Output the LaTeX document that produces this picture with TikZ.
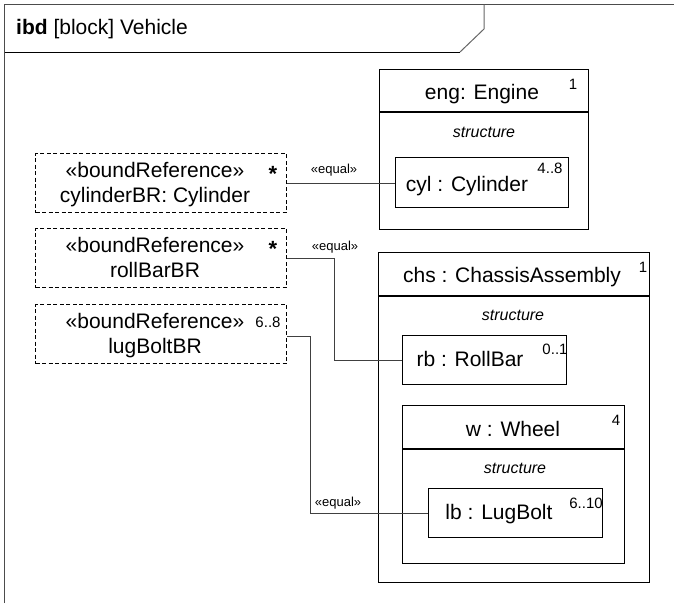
\documentclass[tikz,border=0pt]{standalone}
\usepackage{fontspec}
\setmainfont{Liberation Sans}
\usetikzlibrary{positioning}

\tikzset{
  part/.style={draw, line width=1.3pt, anchor=north west, inner sep=0pt},
  boundref/.style={draw, line width=1.2pt, dash pattern=on 4pt off 2.5pt, anchor=north west, inner sep=0pt},
  conn/.style={draw=black!75, line width=1pt},
  partname/.style={font=\fontsize{21}{25}\selectfont, text height=15, text depth=4.5, inner sep=0pt},
  comp/.style={font=\fontsize{16}{19}\selectfont\itshape, inner sep=0pt},
  mult/.style={font=\fontsize{15}{18}\selectfont, inner sep=0pt},
  star/.style={font=\fontsize{22}{25}\selectfont\bfseries, inner sep=0pt},
  stereo/.style={font=\fontsize{13}{15}\selectfont, inner sep=0pt}
}

\begin{document}
\begin{tikzpicture}[x=1pt,y=-1pt]

\useasboundingbox (0,0) rectangle (674,603);

% frame
\draw[black!70, line width=1.6pt] (4.5,603) -- (4.5,4.5) -- (674,4.5);
\draw[line width=1pt] (4.5,52) -- (460,52);
\draw[black!60, line width=1pt] (460,52) -- (484,29) -- (484,4.5);

\node[partname, anchor=west] (title) at (16,29) {\textbf{ibd} [block] Vehicle};

% engine
\node[part, minimum width=209, minimum height=160] (eng) at (379,69) {};
\draw[line width=1.3pt] ([yshift=-43]eng.north west) -- ([yshift=-43]eng.north east);

\node[partname] (engname) at (482,94) {eng: Engine};
\node[mult] (engmult) at (573,84) {1};
\node[comp] (engcomp) at (484,132) {structure};

\node[part, minimum width=173, minimum height=50] (cyl) at (395,157) {};
\node[partname] (cylname) at (467,186) {cyl : Cylinder};
\node[mult] (cylmult) at (550,168) {4..8};

% chassis
\node[part, minimum width=271, minimum height=330] (chs) at (378,252) {};
\draw[line width=1.3pt] ([yshift=-44]chs.north west) -- ([yshift=-44]chs.north east);

\node[partname] (chsname) at (512,277) {chs : ChassisAssembly};
\node[mult] (chsmult) at (643,267) {1};
\node[comp] (chscomp) at (513,315) {structure};

\node[part, minimum width=164, minimum height=49] (rb) at (402,335) {};
\node[partname] (rbname) at (470,361) {rb : RollBar};
\node[mult] (rbmult) at (555,349) {0..1};

% wheel
\node[part, minimum width=222, minimum height=158] (w) at (402,405) {};
\draw[line width=1.3pt] ([yshift=-44]w.north west) -- ([yshift=-44]w.north east);

\node[partname] (wname) at (513,431) {w : Wheel};
\node[mult] (wmult) at (616,420) {4};
\node[comp] (wcomp) at (515,468) {structure};

\node[part, minimum width=174, minimum height=49] (lb) at (428,488) {};
\node[partname] (lbname) at (499,514) {lb : LugBolt};
\node[mult] (lbmult) at (586,503) {6..10};

% bound references
\node[boundref, minimum width=251, minimum height=59] (cylBR) at (35,153) {};
\node[partname] (cylBRst) at (155,172) {«boundReference»};
\node[partname] (cylBRname) at (155,197) {cylinderBR: Cylinder};
\node[star] (cylBRmult) at (273,174) {*};

\node[boundref, minimum width=251, minimum height=59] (rollBR) at (35,228) {};
\node[partname] (rollBRst) at (155,247) {«boundReference»};
\node[partname] (rollBRname) at (155,272) {rollBarBR};
\node[star] (rollBRmult) at (273,249) {*};

\node[boundref, minimum width=251, minimum height=59] (lugBR) at (35,304) {};
\node[partname] (lugBRst) at (155,323) {«boundReference»};
\node[partname] (lugBRname) at (155,348) {lugBoltBR};
\node[mult] (lugBRmult) at (268,322) {6..8};

% connectors
\draw[conn] (cylBR.east) -- (cylBR.east -| cyl.west);
\node[stereo] (cyleq) at (334,170) {«equal»};

\draw[conn] (rollBR.east) -- ++(47,0) |- (rb.west);
\node[stereo] (rbeq) at (335,247) {«equal»};

\draw[conn] ([yshift=-2]lugBR.east) -- ++(23,0) |- (lb.west);
\node[stereo] (lbeq) at (338,503) {«equal»};

\end{tikzpicture}
\end{document}
